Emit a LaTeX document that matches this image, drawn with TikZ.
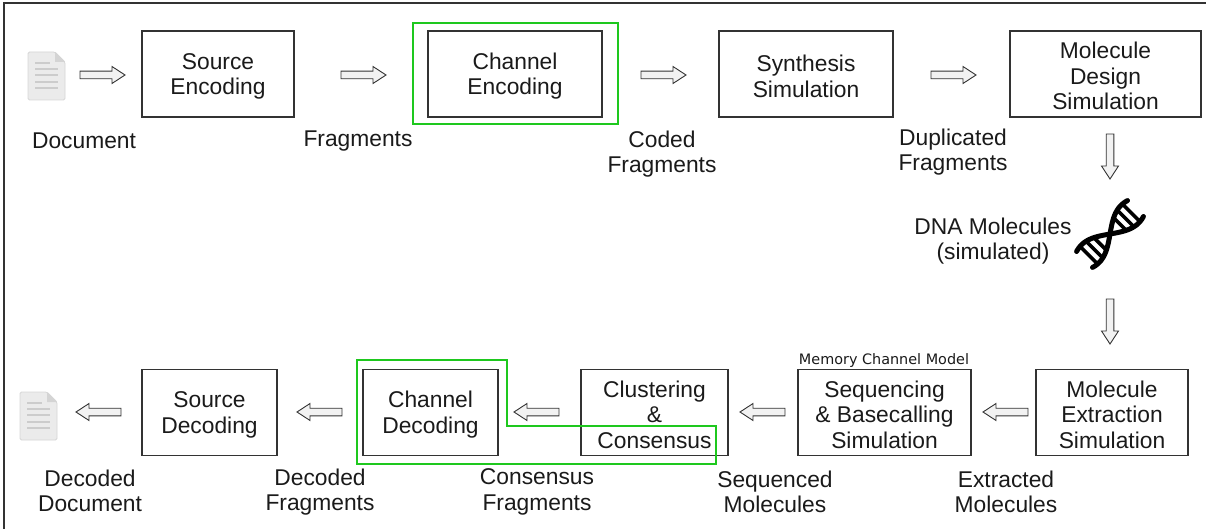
\documentclass[tikz,border=0pt]{standalone}
\usepackage{fontspec}
\setmainfont{Liberation Sans}
\newfontfamily\dejavu{DejaVu Sans}
\usetikzlibrary{calc}
\definecolor{ink}{HTML}{1A1A1A}
\definecolor{edge}{HTML}{333333}
\definecolor{grn}{HTML}{1EC81E}
\definecolor{arrowfill}{HTML}{F2F2F2}
\definecolor{docfill}{HTML}{EBEBEB}
\definecolor{docedge}{HTML}{D6D6D6}
\definecolor{docline}{HTML}{CCCCCC}
\definecolor{docfold}{HTML}{D4D4D4}
\newcommand\mytopstrut{\rule{0pt}{21pt}}
\tikzset{
  box/.style={draw=edge, line width=1.2pt, minimum height=86pt, inner sep=0pt, align=center, text=ink},
  lbl/.style={align=center, inner sep=0pt, text=ink},
  hl/.style={draw=grn, line width=2pt},
  barrowstyle/.style={draw=edge, fill=arrowfill, line width=0.9pt, line join=miter},
  pics/barrow/.style={code={
    \draw[barrowstyle] (0,-3.8) -- (32,-3.8) -- (32,-8.5) -- (45,0) -- (32,8.5) -- (32,3.8) -- (0,3.8) -- cycle;
  }},
  pics/docicon/.style={code={
    \draw[fill=docfill, draw=docedge, line width=0.8pt, rounded corners=1.5pt] (0,0) -- (27,0) -- (37,10) -- (37,48) -- (0,48) -- cycle;
    \fill[docfold] (27,0) -- (27,10) -- (37,10) -- cycle;
    \draw[docline, line width=2pt] (7,11) -- (22,11) (7,17) -- (30,17) (7,23) -- (30,23) (7,30) -- (30,30) (7,36) -- (30,36);
  }},
  pics/dna/.style={code={
    \draw[line width=5pt, line cap=round] plot[domain=-36:36, samples=60, smooth] (\x,{12.5*sin(\x*180/56)});
    \draw[line width=5pt, line cap=round] plot[domain=-36:36, samples=60, smooth] (\x,{-12.5*sin(\x*180/56)});
    \foreach \r in {-30,-22,-14,14,22,30} \draw[line width=3.6pt] (\r,{12.5*sin(\r*180/56)}) -- (\r,{-12.5*sin(\r*180/56)});
  }}
}
\begin{document}
\begin{tikzpicture}[x=1pt, y=-1pt, font=\fontsize{22.8}{25.5}\selectfont]
\useasboundingbox (0,0) rectangle (1206,529);
\clip (0,0) rectangle (1206,529);
\draw[edge, line width=1.5pt] (4,3) rectangle (1240,560);

% top row
\node[box, minimum width=152pt] (se) at (218,74) {\mytopstrut Source\\Encoding};
\node[box, minimum width=174pt] (ce) at (515,74) {\mytopstrut Channel\\Encoding};
\node[box, minimum width=174pt] (ss) at (806,74) {\mytopstrut Synthesis\\Simulation};
\node[box, minimum width=191pt] (md) at (1105.5,74) {\mytopstrut Molecule\\Design\\Simulation};
\draw[hl] (413,23) rectangle (618,124);

% bottom row
\node[box, minimum width=152pt] (me) at (1112,412.5) {\mytopstrut Molecule\\Extraction\\Simulation};
\node[box, minimum width=173pt] (sb) at (884.5,412.5) {\mytopstrut Sequencing\\\& Basecalling\\Simulation};
\node[box, minimum width=147pt] (cc) at (654.5,412.5) {\mytopstrut Clustering\\\&\\Consensus};
\node[box, minimum width=135pt] (cd) at (430.5,412.5) {\mytopstrut Channel\\Decoding};
\node[box, minimum width=135pt] (sd) at (209.5,412.5) {\mytopstrut Source\\Decoding};
\draw[hl] (357,360) -- (507,360) -- (507,426) -- (716,426) -- (716,464) -- (357,464) -- cycle;
\node[font=\dejavu\fontsize{14.4}{16}\selectfont, inner sep=0pt, text=ink] (mcm) at (884,361) {Memory Channel Model};

% icons
\pic at (28,52) {docicon};
\pic at (20,392) {docicon};
\pic[rotate=45] at (1110,234) {dna};

% block arrows
\pic at (80,75) {barrow};
\pic at (341,75) {barrow};
\pic at (641,75) {barrow};
\pic at (931,75) {barrow};
\pic[rotate=-90] at (1110,134) {barrow};
\pic[rotate=-90] at (1110,299) {barrow};
\pic[rotate=180] at (1028,412) {barrow};
\pic[rotate=180] at (785,412) {barrow};
\pic[rotate=180] at (559,412) {barrow};
\pic[rotate=180] at (342,412) {barrow};
\pic[rotate=180] at (121,412) {barrow};

% labels
\node[lbl] (ldoc) at (84,141) {Document};
\node[lbl] (lfrag) at (358,141) {Fragments};
\node[lbl] (lcoded) at (662,154) {Coded\\Fragments};
\node[lbl] (ldup) at (953,152) {Duplicated\\Fragments};
\node[lbl] (ldna) at (993,241) {DNA Molecules\\(simulated)};
\node[lbl] (lext) at (1006,492) {Extracted\\Molecules};
\node[lbl] (lseq) at (775,492) {Sequenced\\Molecules};
\node[lbl] (lcons) at (537,492) {Consensus\\Fragments};
\node[lbl] (ldecf) at (320,492) {Decoded\\Fragments};
\node[lbl] (ldecd) at (90,491) {Decoded\\Document};
\end{tikzpicture}
\end{document}
